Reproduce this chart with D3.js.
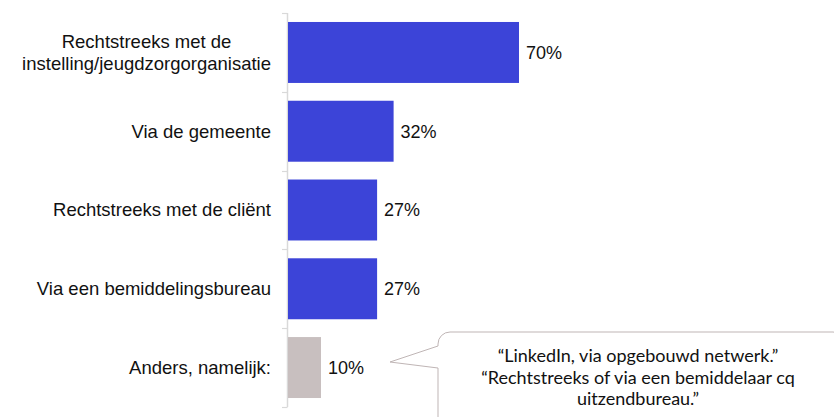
<!DOCTYPE html>
<html>
<head>
<meta charset="utf-8">
<script src="https://cdn.jsdelivr.net/npm/d3@7"></script>
<style>
  html, body { margin: 0; padding: 0; background: #fff; }
  svg { display: block; }
</style>
</head>
<body>
<svg id="chart" width="834" height="417"></svg>
<script>
// Categories (each entry is a list of label lines) and their percentages
const categories = [
  ["Rechtstreeks met de", "instelling/jeugdzorgorganisatie"],
  ["Via de gemeente"],
  ["Rechtstreeks met de cliënt"],
  ["Via een bemiddelingsbureau"],
  ["Anders, namelijk:"]
];
const values = [70, 32, 27, 27, 10];
const barColors = ["#3c44d8", "#3c44d8", "#3c44d8", "#3c44d8", "#c8bfbf"];
const calloutLines = [
  "\u201CLinkedIn, via opgebouwd netwerk.\u201D",
  "\u201CRechtstreeks of via een bemiddelaar cq",
  "uitzendbureau.\u201D"
];

const svg = d3.select("#chart");
const keys = categories.map((c, i) => i);

const y = d3.scaleBand()
  .domain(keys)
  .range([13, 407])
  .paddingInner(0.226)
  .paddingOuter(0.114);

const x = d3.scaleLinear().domain([0, 100]).range([288, 618]);

// Vertical category axis with ticks on band boundaries
const axisColor = "#d9d9d9";
svg.append("line")
  .attr("x1", 287.5).attr("x2", 287.5)
  .attr("y1", 13).attr("y2", 407)
  .attr("stroke", axisColor).attr("stroke-width", 1.5);
const gap = y.step() * y.paddingInner() / 2;
const boundaries = [13].concat(keys.map(k => y(k) + y.bandwidth() + gap));
svg.selectAll("line.tick").data(boundaries).join("line")
  .attr("class", "tick")
  .attr("x1", 282).attr("x2", 287.5)
  .attr("y1", d => Math.round(d) + 0.5).attr("y2", d => Math.round(d) + 0.5)
  .attr("stroke", axisColor).attr("stroke-width", 1.2);

// Bars
svg.selectAll("rect.bar").data(keys).join("rect")
  .attr("class", "bar")
  .attr("x", x(0))
  .attr("y", k => y(k))
  .attr("width", k => x(values[k]) - x(0))
  .attr("height", y.bandwidth())
  .attr("fill", k => barColors[k]);

// Value labels
svg.selectAll("text.value").data(keys).join("text")
  .attr("class", "value")
  .attr("x", k => x(values[k]) + 7)
  .attr("y", k => y(k) + y.bandwidth() / 2)
  .attr("dy", "0.35em")
  .attr("font-family", "Liberation Sans, Arial, sans-serif")
  .attr("font-size", 18)
  .attr("fill", "#111")
  .text(k => values[k] + "%");

// Category labels, multi-line blocks centred within themselves and right-aligned
const labelRight = 271;
const lineH = 22;
keys.forEach(k => {
  const lines = categories[k];
  const g = svg.append("g");
  const cy = y(k) + y.bandwidth() / 2;
  const texts = lines.map((ln, i) => g.append("text")
    .attr("y", cy + (i - (lines.length - 1) / 2) * lineH)
    .attr("dy", "0.35em")
    .attr("font-family", "Liberation Sans, Arial, sans-serif")
    .attr("font-size", 18.5)
    .attr("fill", "#111")
    .attr("text-anchor", "middle")
    .text(ln));
  const w = d3.max(texts, t => t.node().getComputedTextLength());
  texts.forEach(t => t.attr("x", labelRight - w / 2));
});

// Speech-bubble callout pointing at the "Anders" bar
const bx = 438, by = 332, br = 12, bR = 845, bB = 430;
const tipX = 390, tipY = 362, p1 = 346, p2 = 368;
const bubble = d3.path();
bubble.moveTo(bx + br, by);
bubble.lineTo(bR - br, by);
bubble.arcTo(bR, by, bR, by + br, br);
bubble.lineTo(bR, bB - br);
bubble.arcTo(bR, bB, bR - br, bB, br);
bubble.lineTo(bx + br, bB);
bubble.arcTo(bx, bB, bx, bB - br, br);
bubble.lineTo(bx, p2);
bubble.lineTo(tipX, tipY);
bubble.lineTo(bx, p1);
bubble.lineTo(bx, by + br);
bubble.arcTo(bx, by, bx + br, by, br);
bubble.closePath();
svg.append("path")
  .attr("d", bubble.toString())
  .attr("fill", "#fff")
  .attr("stroke", "#bfb5b5")
  .attr("stroke-width", 1);

svg.selectAll("text.callout").data(calloutLines).join("text")
  .attr("class", "callout")
  .attr("x", 638)
  .attr("y", (d, i) => 356 + i * 21.5)
  .attr("dy", "0.35em")
  .attr("text-anchor", "middle")
  .attr("font-family", "Lato, Carlito, Calibri, sans-serif")
  .attr("font-size", 18)
  .attr("fill", "#111")
  .text(d => d);
</script>
</body>
</html>
